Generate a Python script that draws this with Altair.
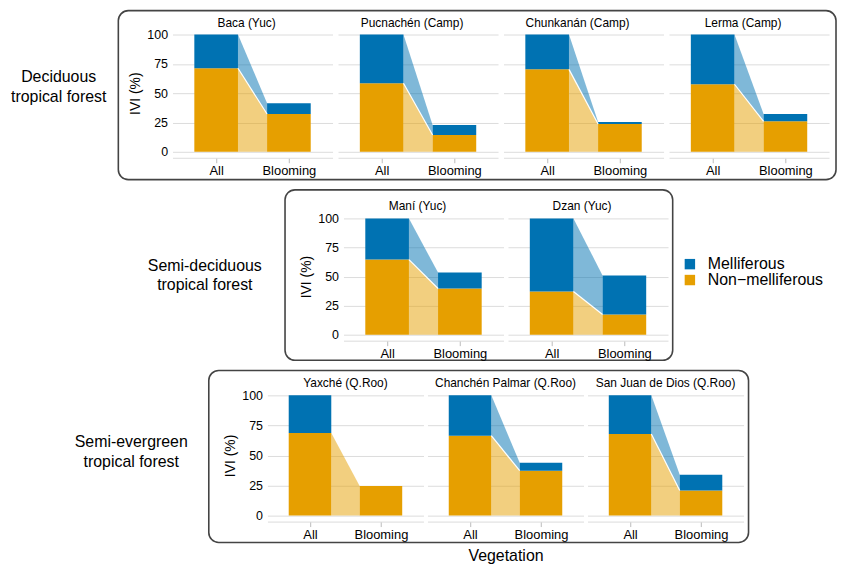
import altair as alt
import pandas as pd

# ---------------- data ----------------
forests = ["Deciduous\ntropical forest",
           "Semi-deciduous\ntropical forest",
           "Semi-evergreen\ntropical forest"]
sites = ["Baca (Yuc)", "Pucnachén (Camp)", "Chunkanán (Camp)", "Lerma (Camp)",
         "Maní (Yuc)", "Dzan (Yuc)",
         "Yaxché (Q.Roo)", "Chanchén Palmar (Q.Roo)", "San Juan de Dios (Q.Roo)"]
stages = ["All", "Blooming"]
categories = ["Melliferous", "Non\u2212melliferous"]
y_ticks = [0, 25, 50, 75, 100]
all_non = [71.2, 58.5, 70.3, 57.6, 64.6, 37.1, 68.7, 66.5, 67.9]
all_mel = [28.8, 41.5, 29.7, 42.4, 35.4, 62.9, 31.3, 33.5, 32.1]
bloom_non = [32.2, 14.4, 23.7, 26.0, 39.7, 17.4, 24.7, 37.4, 20.9]
bloom_mel = [9.3, 8.5, 1.7, 6.2, 13.7, 33.5, None, 6.6, 13.1]

recs = []
for i, s in enumerate(sites):
    pairs = [(all_non[i], all_mel[i]), (bloom_non[i], bloom_mel[i])]
    for j, (non, mel) in enumerate(pairs):
        recs.append(dict(site=s, stage=stages[j], pos=j, cat=categories[1], lo=0.0, hi=non))
        if mel is not None:
            recs.append(dict(site=s, stage=stages[j], pos=j, cat=categories[0], lo=non, hi=non + mel))
df = pd.DataFrame(recs)

# ---------------- styling ----------------
BLUE, ORANGE = "#0072B2", "#E69F00"
GRID = "#dcdcdc"
color_scale = alt.Scale(domain=categories, range=[BLUE, ORANGE])
x_scale = alt.Scale(domain=[-0.6, 1.6], nice=False, zero=False)
y_scale = alt.Scale(domain=[0, 100], nice=False)
label_expr = f"datum.value == 0 ? '{stages[0]}' : '{stages[1]}'"


def make_legend():
    return alt.Legend(orient="none", legendX=678, legendY=223, title=None,
                      symbolType="square", symbolSize=110, symbolStrokeWidth=0,
                      symbolOpacity=1, labelFontSize=16, labelOffset=10,
                      rowPadding=-2, padding=0, labelColor="#000")


def panel(site, w, h, first, dx, xtitle=None):
    base = alt.Chart(df).transform_filter(alt.datum.site == site).transform_calculate(
        xl="datum.pos - 0.3",
        xr="datum.pos + 0.3",
        xa="datum.pos == 0 ? datum.pos + 0.3 : datum.pos - 0.3",
    )
    xax = alt.Axis(values=[0, 1], labelExpr=label_expr, grid=False, offset=6,
                   tickSize=5, domainColor=GRID, tickColor="#bbbbbb",
                   labelFontSize=13, labelPadding=2, labelColor="#000",
                   title=xtitle, titleFontSize=16, titleFontWeight="normal",
                   titleColor="#000", titlePadding=6)
    yax = alt.Axis(values=y_ticks, grid=True, gridColor=GRID,
                   domain=False, ticks=False, labels=first, labelFontSize=12.5,
                   labelColor="#000", labelPadding=5, labelOverlap=False,
                   title="IVI (%)" if first else None, titleFontSize=14,
                   titleFontWeight="normal", titleColor="#000", titlePadding=4)
    area = base.mark_area(opacity=0.5).encode(
        x=alt.X("xa:Q", scale=x_scale, axis=xax),
        y=alt.Y("lo:Q", scale=y_scale, axis=yax),
        y2="hi:Q",
        color=alt.Color("cat:N", scale=color_scale, legend=make_legend()),
    )
    bars = base.mark_rect().encode(
        x=alt.X("xl:Q", scale=x_scale, axis=xax),
        x2="xr:Q",
        y=alt.Y("lo:Q", scale=y_scale, axis=yax),
        y2="hi:Q",
        color=alt.Color("cat:N", scale=color_scale, legend=make_legend()),
    )
    line = base.transform_filter(alt.datum.cat == categories[0]).mark_line(
        color="white", strokeWidth=1.2).encode(
        x=alt.X("xa:Q", scale=x_scale, axis=xax),
        y=alt.Y("lo:Q", scale=y_scale, axis=yax),
    )
    title = alt.Chart(pd.DataFrame({"site": [site]})).mark_text(
        fontSize=12, align="center", baseline="alphabetic", color="#000").encode(
        x=alt.value(w / 2 + dx), y=alt.value(-8), text="site:N")
    return alt.layer(area, bars, line, title).properties(width=w, height=h)


def label_chart(text, w, h, cx, cy, bx1, bx2, by1, by2):
    d = pd.DataFrame({"label": [text]})
    frame = alt.Chart(d).mark_rect(filled=False, stroke="#444", strokeWidth=1.6,
                                   cornerRadius=10).encode(
        x=alt.value(bx1), x2=alt.value(bx2), y=alt.value(by1), y2=alt.value(by2))
    txt = alt.Chart(d).mark_text(fontSize=16, lineBreak="\n", align="center",
                                 baseline="middle", lineHeight=20,
                                 color="#000").encode(
        x=alt.value(cx), y=alt.value(cy), text="label:N")
    return alt.layer(frame, txt).properties(width=w, height=h)


# row 1
H1, W1 = 118, 161
row1 = alt.hconcat(
    label_chart(forests[0], 159.5, H1, 51, 43, 111, 833, -24, H1 + 28),
    *[panel(sites[k], W1, H1, k == 0, -6) for k in range(4)],
    spacing=5.5, bounds="flush",
)
# row 2
H2, W2 = 117, 161
row2 = alt.hconcat(
    label_chart(forests[1], 332.5, H2, 198, 47.5, 278.7, 668.7, -28.7, H2 + 25.7),
    *[panel(sites[k], W2, H2, k == 4, -6) for k in range(4, 6)],
    spacing=4.5, bounds="flush",
)
# row 3
H3, W3 = 121, 157
row3 = alt.hconcat(
    label_chart(forests[2], 257, H3, 124, 47, 202, 745, -25, H3 + 27),
    *[panel(sites[k], W3, H3, k == 6, 0, "Vegetation" if k == 7 else None)
      for k in range(6, 9)],
    spacing=4, bounds="flush",
)

chart = alt.vconcat(row1, row2, row3, spacing=8).resolve_scale(
    color="shared").properties(padding=0).configure(
    font="Liberation Sans").configure_view(strokeWidth=0)

chart.save("out.html", embed_options={"renderer": "svg", "actions": False})
